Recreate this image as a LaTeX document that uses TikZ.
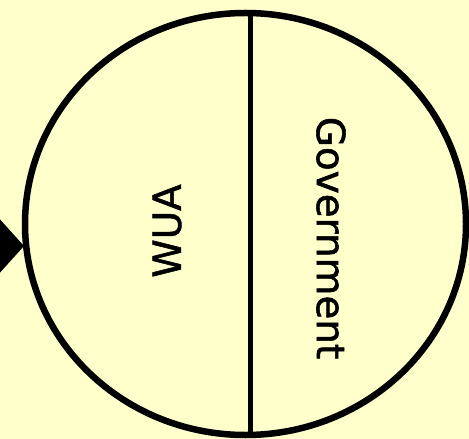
\documentclass[tikz,border=0pt]{standalone}
\usepackage{fontspec}
\usetikzlibrary{shapes.geometric,arrows.meta}
\newfontfamily\labelfont[FakeBold=1.4]{DejaVu Sans}
\definecolor{paleyellow}{HTML}{FFFFCC}
\begin{document}
\begin{tikzpicture}[x=1bp,y=-1bp,
  lbl/.style={font=\labelfont\fontsize{39}{40}\selectfont, inner sep=0pt}]
\fill[paleyellow] (0,0) rectangle (469,439);
\useasboundingbox (0,0) rectangle (469,439);
\clip (0,0) rectangle (469,439);
\node[draw, ellipse, line width=6.5bp, minimum width=441bp, minimum height=422bp, inner sep=0pt] (body) at (245.5,224) {};
\draw[line width=5bp] ([xshift=4.5bp]body.north) -- ([xshift=4.5bp]body.south);
\node[lbl, rotate=90] (wua) at (167,231) {WUA};
\node[lbl, rotate=-90] (gov) at (331,238) {Government};
% incoming arrow, only its head is inside the frame
\coordinate (tip) at (24,246);
\coordinate (src) at (-80,246);
\draw[line width=2bp, -{Triangle[length=34bp,width=75bp]}] (src) -- (tip);
\end{tikzpicture}
\end{document}
